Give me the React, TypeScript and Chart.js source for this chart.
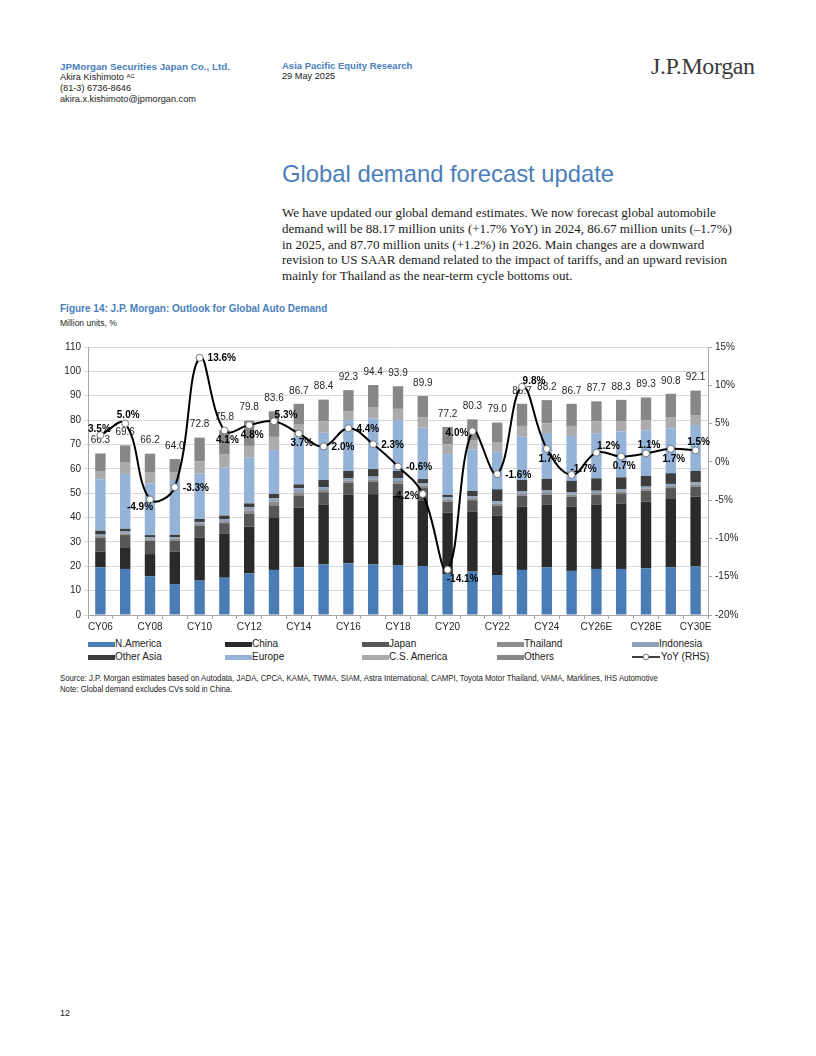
import React, { useEffect, useRef } from 'react';
import { Chart, registerables } from 'chart.js';

Chart.register(...registerables);

// ---------- DATA ----------
const categories = [
  'CY06', 'CY07', 'CY08', 'CY09', 'CY10', 'CY11', 'CY12', 'CY13', 'CY14', 'CY15',
  'CY16', 'CY17', 'CY18', 'CY19', 'CY20', 'CY21', 'CY22', 'CY23', 'CY24', 'CY25',
  'CY26E', 'CY27E', 'CY28E', 'CY29E', 'CY30E',
];

const northAmerica = [19.6, 18.9, 15.9, 12.7, 14.1, 15.3, 17.1, 18.5, 19.6, 20.8, 21.2, 20.8, 20.5, 20.1, 16.8, 17.8, 16.4, 18.5, 19.5, 18.1, 18.9, 18.9, 19.2, 19.5, 19.9];
const china = [6.4, 8.6, 9.1, 13.3, 17.7, 18.2, 19.2, 21.6, 24.5, 24.4, 28.1, 28.8, 28.4, 27.0, 25.2, 24.7, 24.3, 26.0, 25.7, 26.4, 26.3, 26.9, 27.3, 28.4, 28.7];
const japan = [5.7, 5.3, 5.4, 4.5, 4.8, 4.2, 5.2, 4.9, 5.0, 5.2, 5.0, 5.2, 5.0, 5.0, 4.5, 4.6, 4.1, 4.4, 4.1, 4.1, 4.1, 4.1, 4.5, 4.2, 4.1];
const thailand = [0.7, 0.6, 0.6, 0.8, 0.8, 0.8, 1.5, 1.5, 1.3, 0.9, 0.8, 0.9, 1.1, 1.0, 0.9, 0.8, 0.9, 0.8, 0.8, 0.8, 0.8, 0.8, 0.8, 0.8, 0.8];
const indonesia = [0.6, 0.9, 0.9, 0.6, 0.8, 0.9, 1.2, 1.4, 1.6, 1.2, 1.1, 1.1, 1.2, 0.9, 0.9, 0.9, 1.0, 1.0, 1.0, 0.9, 0.9, 0.9, 0.9, 0.9, 1.0];
const otherAsia = [1.6, 1.1, 0.9, 1.0, 1.2, 1.4, 1.6, 1.8, 1.6, 2.9, 2.9, 3.1, 2.9, 1.8, 1.0, 2.1, 4.9, 4.7, 4.8, 4.8, 5.1, 4.9, 4.4, 4.4, 4.6];
const europe = [21.1, 22.5, 21.2, 22.5, 18.6, 19.6, 18.8, 18.0, 20.0, 19.4, 20.9, 20.8, 20.9, 21.1, 16.7, 17.1, 15.4, 17.8, 18.8, 18.4, 18.5, 18.8, 18.6, 18.4, 18.9];
const csAmerica = [3.4, 4.6, 4.7, 3.3, 5.0, 5.7, 4.8, 5.4, 4.8, 4.6, 3.5, 4.4, 4.6, 4.2, 4.0, 3.8, 3.7, 4.4, 4.0, 4.1, 4.8, 4.3, 4.3, 4.4, 4.1];
const others = [7.2, 7.1, 7.5, 5.3, 9.8, 9.7, 10.4, 10.5, 8.3, 9.0, 8.8, 9.3, 9.3, 8.8, 7.2, 8.5, 8.3, 9.1, 9.5, 9.1, 8.3, 8.7, 9.3, 9.8, 10.0];

const totals = [66.3, 69.6, 66.2, 64.0, 72.8, 75.8, 79.8, 83.6, 86.7, 88.4, 92.3, 94.4, 93.9, 89.9, 77.2, 80.3, 79.0, 86.7, 88.2, 86.7, 87.7, 88.3, 89.3, 90.8, 92.1];
const yoy = [3.5, 5.0, -4.9, -3.3, 13.6, 4.1, 4.8, 5.3, 3.7, 2.0, 4.4, 2.3, -0.6, -4.2, -14.1, 4.0, -1.6, 9.8, 1.7, -1.7, 1.2, 0.7, 1.1, 1.7, 1.5];

const leftTicks = { min: 0, max: 110, step: 10 };
const rightTicks = { min: -20, max: 15, step: 5 };

// ---------- STYLE ----------
const BLUE = '#4a7ebb';
const FONT = "'Liberation Sans', Arial, Helvetica, sans-serif";
const SERIF = "'Liberation Serif', 'Times New Roman', serif";

const seriesStyle = [
  { label: 'N.America', color: '#4a7db5' },
  { label: 'China', color: '#2a2a2a' },
  { label: 'Japan', color: '#575757' },
  { label: 'Thailand', color: '#8c8c8c' },
  { label: 'Indonesia', color: '#8fa2bb' },
  { label: 'Other Asia', color: '#3d3d3d' },
  { label: 'Europe', color: '#95b3d7' },
  { label: 'C.S. America', color: '#ababab' },
  { label: 'Others', color: '#878787' },
];
const seriesData = [northAmerica, china, japan, thailand, indonesia, otherAsia, europe, csAmerica, others];

// label anchor for each YoY data label (style only)
const yoyAnchor = ['tl', 't', 'bl', 'r', 'r', 'b', 'b', 'tr', 'b', 'r', 'r', 'r', 'r', 'l', 'br', 'l', 'r', 'tr', 'b', 'tr', 'tr', 'b', 't', 'b', 't'];

export default function App() {
  const ref = useRef<HTMLCanvasElement | null>(null);

  useEffect(() => {
    if (!ref.current) return;
    Chart.defaults.font.family = FONT;
    Chart.defaults.font.size = 10;
    Chart.defaults.color = '#262626';

    const labelsPlugin = {
      id: 'customLabels',
      beforeDatasetsDraw(chart: any) {
        const { ctx } = chart;
        const xs = chart.scales.x;
        const ys = chart.scales.y;
        ctx.save();
        ctx.font = `10px ${FONT}`;
        ctx.fillStyle = '#262626';
        ctx.textAlign = 'center';
        ctx.textBaseline = 'middle';
        totals.forEach((t, i) => {
          ctx.fillText(t.toFixed(1), xs.getPixelForValue(i), ys.getPixelForValue(t) - 13);
        });
        ctx.restore();
      },
      afterDatasetsDraw(chart: any) {
        const { ctx } = chart;
        const meta = chart.getDatasetMeta(0);
        ctx.save();
        ctx.font = `bold 10px ${FONT}`;
        ctx.fillStyle = '#000';
        ctx.textAlign = 'center';
        ctx.textBaseline = 'middle';
        meta.data.forEach((pt: any, i: number) => {
          const txt = yoy[i].toFixed(1) + '%';
          const w = ctx.measureText(txt).width;
          let dx = 0;
          let dy = 0;
          switch (yoyAnchor[i]) {
            case 't': dx = 3; dy = -8; break;
            case 'tl': dx = -1; dy = -6; break;
            case 'b': dx = 3; dy = 10; break;
            case 'r': dx = w / 2 + 8; dy = 1; break;
            case 'l': dx = -(w / 2 + 4); dy = 2; break;
            case 'tr': dx = 12; dy = -6; break;
            case 'br': dx = 15; dy = 9; break;
            case 'bl': dx = -10; dy = 8; break;
          }
          ctx.fillText(txt, pt.x + dx, pt.y + dy);
        });
        ctx.restore();
      },
    };

    const datasets: any[] = [
      {
        type: 'line',
        label: 'YoY (RHS)',
        data: yoy,
        yAxisID: 'y1',
        order: 0,
        borderColor: '#000',
        borderWidth: 2,
        tension: 0.4,
        fill: false,
        pointRadius: 3.5,
        pointBackgroundColor: '#fff',
        pointBorderColor: '#777',
        pointBorderWidth: 1,
      },
      ...seriesStyle.map((s, k) => ({
        type: 'bar',
        label: s.label,
        data: seriesData[k],
        backgroundColor: s.color,
        yAxisID: 'y',
        stack: 'demand',
        order: 1,
        barPercentage: 0.42,
        categoryPercentage: 1,
        borderWidth: 0,
      })),
    ];

    const chart = new Chart(ref.current, {
      type: 'bar',
      data: { labels: categories, datasets },
      options: {
        animation: false,
        responsive: true,
        maintainAspectRatio: false,
        layout: { padding: { top: 12, left: 0, right: 0, bottom: 0 } },
        plugins: { legend: { display: false }, tooltip: { enabled: false } },
        scales: {
          x: {
            stacked: true,
            grid: { display: true, drawOnChartArea: false, drawTicks: true, tickLength: 4, color: '#a6a6a6', offset: true },
            border: { display: true, color: '#a6a6a6' },
            ticks: {
              autoSkip: false,
              maxRotation: 0,
              padding: 2,
              color: '#262626',
              font: { size: 10 },
              callback: (_v: any, i: number) => (i % 2 === 0 ? categories[i] : ''),
            },
            afterFit: (s: any) => { s.height = 20; },
          },
          y: {
            stacked: true,
            position: 'left',
            min: leftTicks.min,
            max: leftTicks.max,
            ticks: { stepSize: leftTicks.step, padding: 3, color: '#262626', font: { size: 10 } },
            grid: { color: '#d9d9d9', tickLength: 4 },
            border: { display: true, color: '#a6a6a6' },
            afterFit: (s: any) => { s.width = 48; },
          },
          y1: {
            position: 'right',
            min: rightTicks.min,
            max: rightTicks.max,
            ticks: {
              stepSize: rightTicks.step,
              padding: 3,
              color: '#262626',
              font: { size: 10 },
              callback: (v: any) => `${v}%`,
            },
            grid: { drawOnChartArea: false, tickLength: 4, color: '#a6a6a6' },
            border: { display: true, color: '#a6a6a6' },
            afterFit: (s: any) => { s.width = 52; },
          },
        },
      },
      plugins: [labelsPlugin],
    } as any);

    return () => chart.destroy();
  }, []);

  const abs = (left: number, top: number, extra: React.CSSProperties = {}): React.CSSProperties => ({
    position: 'absolute', left, top, whiteSpace: 'nowrap', ...extra,
  });

  const legendCols = [88, 225, 362, 497, 632];
  const legendItems = [...seriesStyle.map((s) => ({ ...s, line: false })), { label: 'YoY (RHS)', color: '#000', line: true }];

  return (
    <div style={{ position: 'absolute', left: 0, top: 0, width: 816, height: 1056, background: '#fff', fontFamily: FONT, color: '#222' }}>
      {/* header */}
      <div style={abs(60, 61, { fontSize: 9.8, fontWeight: 'bold', color: BLUE, lineHeight: '11px' })}>JPMorgan Securities Japan Co., Ltd.</div>
      <div style={abs(60, 72, { fontSize: 9.2, lineHeight: '11px' })}>
        Akira Kishimoto <sup style={{ fontSize: 6, verticalAlign: 'top', lineHeight: '8px' }}>AC</sup>
      </div>
      <div style={abs(60, 83, { fontSize: 9.2, lineHeight: '11px' })}>(81-3) 6736-8646</div>
      <div style={abs(60, 94, { fontSize: 9.2, lineHeight: '11px' })}>akira.x.kishimoto@jpmorgan.com</div>
      <div style={abs(282, 60, { fontSize: 9.5, fontWeight: 'bold', color: BLUE, lineHeight: '11px' })}>Asia Pacific Equity Research</div>
      <div style={abs(282, 71, { fontSize: 9.2, lineHeight: '11px' })}>29 May 2025</div>
      <div style={abs(651, 52, { fontSize: 24, fontFamily: SERIF, color: '#3a3a3a', letterSpacing: '-0.4px', lineHeight: '28px' })}>J.P.Morgan</div>

      {/* title + text */}
      <div style={abs(282, 160, { fontSize: 23.8, color: BLUE, lineHeight: '28px' })}>Global demand forecast update</div>
      <div style={abs(282, 205, { fontSize: 13.05, fontFamily: SERIF, lineHeight: '15.8px', color: '#1a1a1a' })}>
        We have updated our global demand estimates. We now forecast global automobile<br />
        demand will be 88.17 million units (+1.7% YoY) in 2024, 86.67 million units (–1.7%)<br />
        in 2025, and 87.70 million units (+1.2%) in 2026. Main changes are a downward<br />
        revision to US SAAR demand related to the impact of tariffs, and an upward revision<br />
        mainly for Thailand as the near-term cycle bottoms out.
      </div>

      {/* figure caption */}
      <div style={abs(60, 303, { fontSize: 10, fontWeight: 'bold', color: BLUE, lineHeight: '12px' })}>Figure 14: J.P. Morgan: Outlook for Global Auto Demand</div>
      <div style={abs(60, 318, { fontSize: 8.5, lineHeight: '11px' })}>Million units, %</div>

      {/* chart */}
      <div style={{ position: 'absolute', left: 40, top: 335, width: 720, height: 300 }}>
        <canvas ref={ref} />
      </div>

      {/* legend */}
      {legendItems.map((it, n) => {
        const col = n % 5;
        const row = Math.floor(n / 5);
        const top = 638 + row * 13;
        return (
          <div key={it.label} style={abs(legendCols[col], top, { fontSize: 10, lineHeight: '12px', display: 'flex', alignItems: 'center' })}>
            {it.line ? (
              <svg width={28} height={8} style={{ marginRight: 1 }}>
                <line x1={0} y1={4} x2={28} y2={4} stroke="#000" strokeWidth={1.5} />
                <circle cx={14} cy={4} r={2.8} fill="#fff" stroke="#777" strokeWidth={1} />
              </svg>
            ) : (
              <span style={{ display: 'inline-block', width: 27, height: 5, background: it.color }} />
            )}
            <span>{it.label}</span>
          </div>
        );
      })}

      {/* source */}
      <div style={abs(60, 673, { fontSize: 8.5, lineHeight: '11px', transform: 'scaleX(0.914)', transformOrigin: 'left top' })}>
        Source: J.P. Morgan estimates based on Autodata, JADA, CPCA, KAMA, TWMA, SIAM, Astra International, CAMPI, Toyota Motor Thailand, VAMA, Marklines, IHS Automotive<br />
        Note: Global demand excludes CVs sold in China.
      </div>

      <div style={abs(60, 1008, { fontSize: 9, lineHeight: '11px' })}>12</div>
    </div>
  );
}
